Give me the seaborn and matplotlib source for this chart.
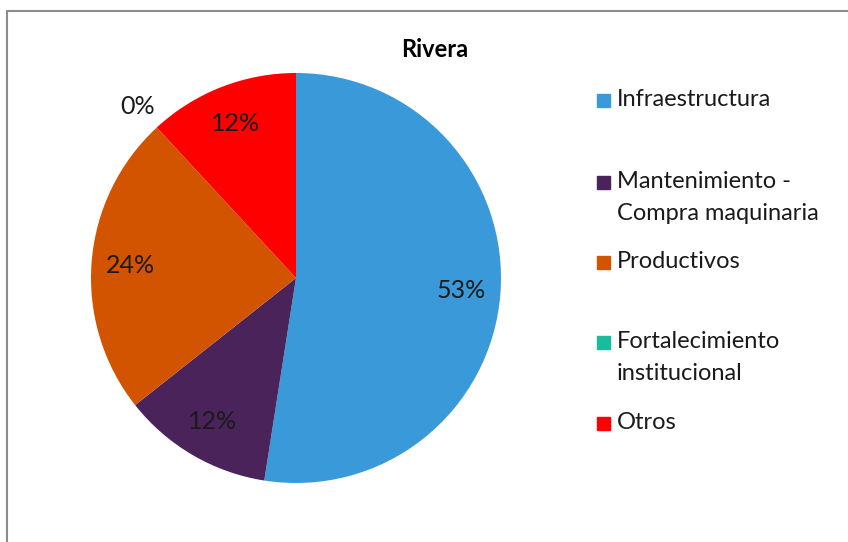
import numpy as np
import matplotlib.pyplot as plt
import seaborn as sns
from matplotlib.lines import Line2D
from matplotlib.patches import Rectangle

# data
categories = ["Infraestructura", "Mantenimiento -\nCompra maquinaria", "Productivos",
              "Fortalecimiento\ninstitucional", "Otros"]
shares = [53, 12, 24, 0, 12]
colors = ["#3A9AD9", "#4A235A", "#D35400", "#1ABC9C", "#FF0000"]
title = "Rivera"

W, H = 848, 542

sns.set_theme(style="white")
plt.rcParams["font.family"] = ["Lato", "DejaVu Sans"]

fig = plt.figure(figsize=(W / 100, H / 100), dpi=100)
fig.patch.set_facecolor("white")


def fx(x):
    return x / W


def fy(y):
    return 1 - y / H


# pie, centre (296, 278) px, radius 205 px
cx, cy, r = 296, 278, 205
ax = fig.add_axes([fx(cx - r), fy(cy + r), 2 * r / W, 2 * r / H])
palette = sns.color_palette(colors)
wedges, _ = ax.pie(shares, colors=palette, startangle=90, counterclock=False,
                   radius=1, wedgeprops=dict(linewidth=0))
ax.set_xlim(-1, 1)
ax.set_ylim(-1, 1)
ax.set_aspect("equal")
ax.axis("off")

for w, v in zip(wedges, shares):
    mid = np.deg2rad((w.theta1 + w.theta2) / 2)
    d = 0.81 if v > 0 else 1.14
    ax.text(d * np.cos(mid), d * np.sin(mid), f"{v}%", ha="center", va="center",
            fontsize=18, color="#1a1a1a")

fig.text(fx(435), fy(57), title, ha="center", va="baseline", fontsize=17,
         fontweight="bold", color="black")

# legend, squares aligned with the first line of each entry
leg_y = [100, 182, 262, 342, 423]
for label, c, y in zip(categories, palette, leg_y):
    fig.add_artist(Rectangle((fx(597), fy(y + 6.5)), 13 / W, 13 / H, color=c,
                             transform=fig.transFigure))
    fig.text(fx(617), fy(y - 11), label, ha="left", va="top", fontsize=17,
             color="#1a1a1a", linespacing=1.65)

# chart frame
fig.add_artist(Line2D([fx(7), 1], [fy(11), fy(11)], color="#8c8c8c", lw=1.5))
fig.add_artist(Line2D([fx(7), fx(7)], [fy(11), 0], color="#8c8c8c", lw=1.5))

fig.savefig("out.png", dpi=100)
